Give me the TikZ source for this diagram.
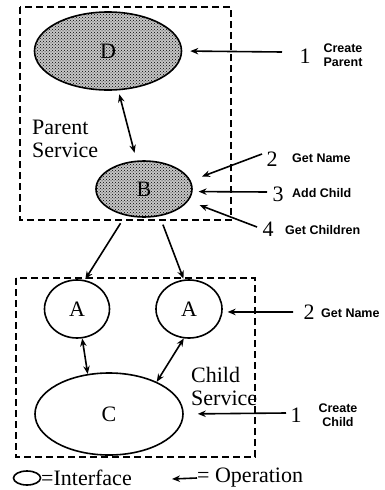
\documentclass[tikz,border=0pt]{standalone}
\usepackage{fontspec}
\setmainfont{Liberation Serif}
\setsansfont{Liberation Sans}
\usetikzlibrary{arrows.meta,patterns,shapes.geometric}

\begin{document}
\begin{tikzpicture}[x=1pt,y=-1pt,
  iface/.style = {draw,ellipse,line width=1.6pt,inner sep=0pt,font=\fontsize{22}{22}\selectfont},
  hatched/.style = {iface,preaction={fill=gray!45},pattern=crosshatch dots,pattern color=black},
  box/.style = {line width=1.4pt,dash pattern=on 7pt off 4pt},
  op/.style = {line width=1.6pt,-{Stealth[length=8pt,width=6.5pt]}},
  both/.style = {line width=1.6pt,{Stealth[length=8pt,width=6.5pt]}-{Stealth[length=8pt,width=6.5pt]}},
  num/.style = {font=\fontsize{22}{22}\selectfont,inner sep=1pt},
  txt/.style = {font=\fontsize{22}{23}\selectfont,align=left,inner sep=0pt},
  small/.style = {font=\sffamily\bfseries\fontsize{12.5}{14}\selectfont,inner sep=0pt}]
\useasboundingbox (0,0) rectangle (385,490);

% parent service
\draw[box] (20,7) rectangle (231,220);
\node[hatched,minimum width=147pt,minimum height=78pt] (d) at (108,51) {D};
\node[hatched,minimum width=96pt,minimum height=56pt]  (b) at (144,189) {B};
\node[txt,anchor=west] (ps) at (32,139) {Parent\\Service};
\draw[both,shorten <=4pt,shorten >=8pt] (d) -- (b);

% child service
\draw[box] (16,278) rectangle (255,457);
\node[iface,minimum width=65pt,minimum height=58pt]  (a1) at (77,309) {A};
\node[iface,minimum width=66pt,minimum height=58pt]  (a2) at (189,309) {A};
\node[iface,minimum width=148pt,minimum height=82pt] (c) at (109,414) {C};
\node[txt,anchor=west] (cs) at (191,386) {Child\\Service};
\draw[both] (a1.-80) -- (c.118);
\draw[both] (a2.-100) -- (c.34);

\draw[op,shorten <=9pt,shorten >=1pt] (b.235) -- (a1.75);
\draw[op,shorten <=9pt,shorten >=1pt] (b.300) -- (a2.100);

% operations
\node[num] (n1) at (305,56) {1};
\node[small,align=center] (l1) at (343,55) {Create\\Parent};
\coordinate (t1) at (282,52);
\draw[op,shorten >=8pt] (t1) -- (d.east);

\node[num] (n2) at (272,159) {2};
\node[small,anchor=west] (l2) at (292,158) {Get Name};
\coordinate (t2) at (262,154);
\draw[op,shorten >=12pt] (t2) -- (b.10);

\node[num] (n3) at (278,194) {3};
\node[small,anchor=west] (l3) at (292,193) {Add Child};
\coordinate (t3) at (267,192);
\draw[op,shorten >=6pt] (t3) -- (b.-3);

\node[num] (n4) at (268,229) {4};
\node[small,anchor=west] (l4) at (285,230) {Get Children};
\coordinate (t4) at (257,227);
\draw[op,shorten >=12pt] (t4) -- (b.-15);

\node[num] (n5) at (309,312) {2};
\node[small,anchor=west] (l5) at (321,313) {Get Name};
\coordinate (t5) at (293,312);
\draw[op,shorten >=5pt] (t5) -- (a2.-5);

\node[num] (n6) at (296,415) {1};
\node[small,align=center] (l6) at (338,415) {Create\\Child};
\coordinate (t6) at (286,413);
\draw[op,shorten >=14pt] (t6) -- (c.east);

% legend
\node[draw,ellipse,line width=1.6pt,minimum width=27pt,minimum height=14pt] (li) at (27,478) {};
\node[txt,anchor=west] (lt) at (41,478) {=Interface};
\node[txt,anchor=west] (lo) at (197,478) {= Operation};
\coordinate (lh) at (172,479);
\draw[op] (lo.west) -- (lh);
\end{tikzpicture}
\end{document}
